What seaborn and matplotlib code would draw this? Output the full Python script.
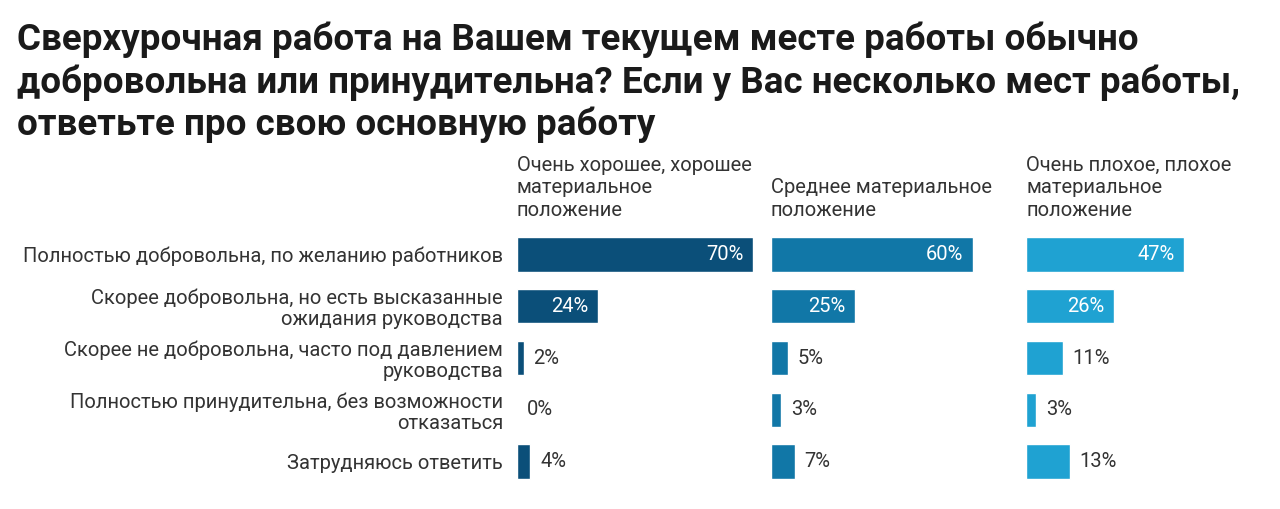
import matplotlib
matplotlib.use("Agg")
import matplotlib.pyplot as plt
import seaborn as sns
import pandas as pd

categories = [
    "Полностью добровольна, по желанию работников",
    "Скорее добровольна, но есть высказанные\nожидания руководства",
    "Скорее не добровольна, часто под давлением\nруководства",
    "Полностью принудительна, без возможности\nотказаться",
    "Затрудняюсь ответить",
]
groups = [
    "Очень хорошее, хорошее\nматериальное\nположение",
    "Среднее материальное\nположение",
    "Очень плохое, плохое\nматериальное\nположение",
]
good = [70, 24, 2, 0, 4]
middle = [60, 25, 5, 3, 7]
bad = [47, 26, 11, 3, 13]
colors = ["#0b4f79", "#1177a7", "#1fa2d2"]

title = ("Сверхурочная работа на Вашем текущем месте работы обычно\n"
         "добровольна или принудительна? Если у Вас несколько мест работы,\n"
         "ответьте про свою основную работу")

sns.set_style("white")
plt.rcParams["font.family"] = ["Roboto", "DejaVu Sans"]

W, H = 1280, 509
fig = plt.figure(figsize=(W / 100, H / 100), dpi=100)
fig.text(17 / W, 1 - 22 / H, title, fontsize=26.5, fontweight="bold",
         color="#1a1a1a", va="top", ha="left", linespacing=1.2)

lefts = [517, 771, 1026]
panel_w = 236
top_px, bot_px = 228.6, 487.4
text_col = "#333333"

for i, (vals, grp) in enumerate(zip([good, middle, bad], groups)):
    ax = fig.add_axes([lefts[i] / W, 1 - bot_px / H, panel_w / W, (bot_px - top_px) / H])
    df = pd.DataFrame({"cat": categories, "val": vals})
    sns.barplot(data=df, x="val", y="cat", ax=ax, color=colors[i],
                orient="h", width=0.66, saturation=1)
    ax.set_xlim(0, 70)
    ax.set_xlabel("")
    ax.set_ylabel("")
    ax.set_xticks([])
    sns.despine(ax=ax, left=True, bottom=True)
    if i == 0:
        ax.set_yticklabels(categories, fontsize=14.5, color=text_col, ha="right",
                           linespacing=1.1)
        ax.tick_params(axis="y", length=0, pad=10)
    else:
        ax.set_yticks([])
    for j, v in enumerate(vals):
        if v >= 20:
            ax.annotate(f"{v}%", (v, j), xytext=(-7, 0), textcoords="offset points",
                        ha="right", va="center", color="white", fontsize=14.5)
        else:
            ax.annotate(f"{v}%", (v, j), xytext=(7, 0), textcoords="offset points",
                        ha="left", va="center", color=text_col, fontsize=14.5)
    ax.text(0, 1.035, grp, transform=ax.transAxes, ha="left", va="bottom",
            fontsize=14.5, color=text_col, linespacing=1.22)

fig.savefig("out.png", dpi=100)
